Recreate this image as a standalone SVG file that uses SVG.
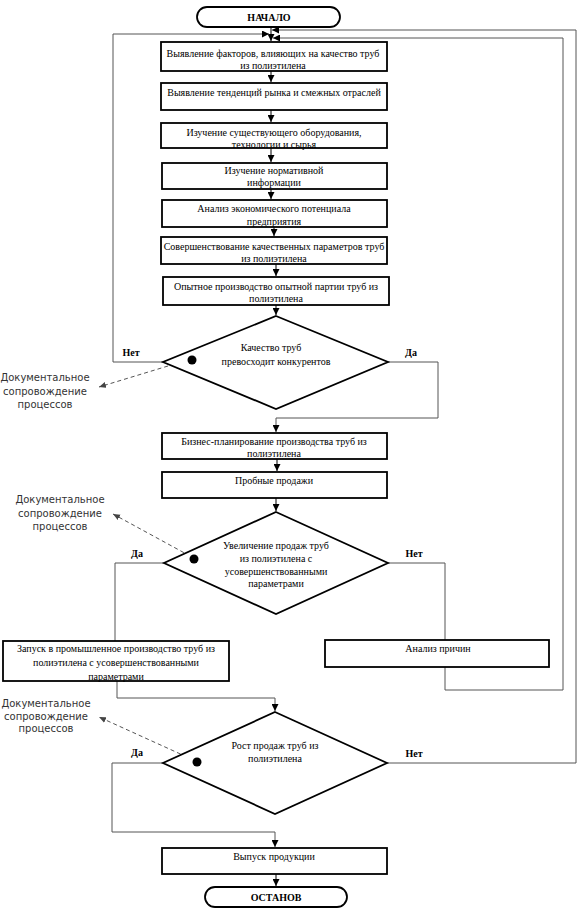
<svg xmlns="http://www.w3.org/2000/svg" width="586" height="913" viewBox="0 0 586 913">
<style>
.box{fill:#fff;stroke:#000;stroke-width:1.8}
.dia{fill:#fff;stroke:#000;stroke-width:1.8}
.t{font-family:"Liberation Serif",serif;font-size:10px;fill:#000;text-anchor:middle}
.b{font-family:"Liberation Serif",serif;font-size:10px;font-weight:bold;fill:#000;text-anchor:middle}
.doc{font-family:"DejaVu Sans",sans-serif;font-size:10px;fill:#333;text-anchor:middle}
.c{fill:none;stroke:#555;stroke-width:1}
.s{fill:none;stroke:#000;stroke-width:1}
.d{fill:none;stroke:#555;stroke-width:1;stroke-dasharray:4,3}
</style>
<defs>
<marker id="ar" markerUnits="userSpaceOnUse" markerWidth="8" markerHeight="7" refX="7" refY="3.5" orient="auto">
<path d="M0,0 L7,3.5 L0,7 z" fill="#000"/>
</marker>
<marker id="ard" markerUnits="userSpaceOnUse" markerWidth="8" markerHeight="7" refX="7" refY="3.5" orient="auto">
<path d="M0,0.5 L7,3.5 L0,6.5 z" fill="#444"/>
</marker>
</defs>

<g id="connectors">
<path class="s" d="M271,27 V41" marker-end="url(#ar)"/>
<path class="s" d="M271,71 V82" marker-end="url(#ar)"/>
<path class="s" d="M271,110 V122" marker-end="url(#ar)"/>
<path class="s" d="M271,148 V162" marker-end="url(#ar)"/>
<path class="s" d="M271,189 V199" marker-end="url(#ar)"/>
<path class="s" d="M274,227 V236" marker-end="url(#ar)"/>
<path class="s" d="M276,264 V276" marker-end="url(#ar)"/>
<path class="s" d="M276,305 V315" marker-end="url(#ar)"/>
<path class="c" d="M163,362 H113 V34 H269" marker-end="url(#ar)"/>
<path class="c" d="M388,362 H438 V418 H276 V432" marker-end="url(#ar)"/>
<path class="s" d="M277,459 V471" marker-end="url(#ar)"/>
<path class="s" d="M276,498 V511" marker-end="url(#ar)"/>
<path class="c" d="M164,563 H115 V641"/>
<path class="c" d="M388,563 H445 V690 H563 V38 H273" marker-end="url(#ar)"/>
<path class="c" d="M117,681 V698 H275 V711" marker-end="url(#ar)"/>
<path class="c" d="M387,763 H576 V30 H272" marker-end="url(#ar)"/>
<path class="c" d="M163,763 H112 V832 H275 V847" marker-end="url(#ar)"/>
<path class="s" d="M276,874 V886" marker-end="url(#ar)"/>
<path class="d" d="M168,366 L99,387" marker-end="url(#ard)"/>
<path class="d" d="M190,556 L113,514" marker-end="url(#ard)"/>
<path class="d" d="M187,757 L99,717" marker-end="url(#ard)"/>
</g>

<g id="start">
<rect class="box" x="197" y="7" width="143" height="20" rx="10" ry="10"/>
<text class="b" x="269" y="21">НАЧАЛО</text>
</g>

<g id="n1">
<rect class="box" x="161" y="42" width="226" height="29"/>
<text class="t" x="273" y="56.5">Выявление факторов, влияющих на качество труб</text>
<text class="t" x="273" y="68.5">из полиэтилена</text>
</g>
<g id="n2">
<rect class="box" x="161" y="83" width="226" height="27"/>
<text class="t" x="274" y="95.5">Выявление тенденций рынка и смежных отраслей</text>
</g>
<g id="n3">
<rect class="box" x="161" y="123" width="226" height="25"/>
<text class="t" x="274" y="135.5">Изучение существующего оборудования,</text>
<text class="t" x="274" y="147.5">технологии и сырья</text>
</g>
<g id="n4">
<rect class="box" x="162" y="163" width="225" height="26"/>
<text class="t" x="274" y="173.5">Изучение нормативной</text>
<text class="t" x="274" y="186">информации</text>
</g>
<g id="n5">
<rect class="box" x="162" y="200" width="225" height="27"/>
<text class="t" x="274" y="211.5">Анализ экономического потенциала</text>
<text class="t" x="274" y="224.5">предприятия</text>
</g>
<g id="n6">
<rect class="box" x="161" y="237" width="226" height="27"/>
<text class="t" x="274" y="249.5">Совершенствование качественных параметров труб</text>
<text class="t" x="274" y="261.5">из полиэтилена</text>
</g>
<g id="n7">
<rect class="box" x="163" y="277" width="226" height="28"/>
<text class="t" x="276" y="289.5">Опытное производство опытной партии труб из</text>
<text class="t" x="276" y="301.5">полиэтилена</text>
</g>

<g id="d1">
<polygon class="dia" points="276,316 388,362 276,409 163,362"/>
<circle cx="192" cy="360" r="4.5" fill="#000"/>
<text class="t" x="271" y="350.5">Качество труб</text>
<text class="t" x="276" y="364.5">превосходит конкурентов</text>
<text class="b" x="131" y="355.5">Нет</text>
<text class="b" x="411" y="355.5">Да</text>
</g>
<g id="doc1">
<text class="doc" x="45" y="381">Документальное</text>
<text class="doc" x="45" y="395">сопровождение</text>
<text class="doc" x="45" y="408">процессов</text>
</g>

<g id="n8">
<rect class="box" x="162" y="433" width="225" height="26"/>
<text class="t" x="274" y="444.5">Бизнес-планирование производства труб из</text>
<text class="t" x="274" y="456.5">полиэтилена</text>
</g>
<g id="n9">
<rect class="box" x="162" y="472" width="225" height="26"/>
<text class="t" x="274" y="483.5">Пробные продажи</text>
</g>

<g id="d2">
<polygon class="dia" points="276,512 388,563 276,614 164,563"/>
<circle cx="194" cy="559" r="4.5" fill="#000"/>
<text class="t" x="276" y="548.5">Увеличение продаж труб</text>
<text class="t" x="276" y="561.5">из полиэтилена с</text>
<text class="t" x="276" y="575">усовершенствованными</text>
<text class="t" x="276" y="587">параметрами</text>
<text class="b" x="137" y="556.5">Да</text>
<text class="b" x="414" y="556.5">Нет</text>
</g>
<g id="doc2">
<text class="doc" x="60" y="503">Документальное</text>
<text class="doc" x="60" y="516.5">сопровождение</text>
<text class="doc" x="60" y="529.5">процессов</text>
</g>

<g id="n10">
<rect class="box" x="3" y="641" width="226" height="40"/>
<text class="t" x="116" y="651.5">Запуск в промышленное производство труб из</text>
<text class="t" x="116" y="666">полиэтилена с усовершенствованными</text>
<text class="t" x="116" y="679.5">параметрами</text>
</g>
<g id="n11">
<rect class="box" x="325" y="640" width="224" height="27"/>
<text class="t" x="438" y="651.5">Анализ причин</text>
</g>

<g id="d3">
<polygon class="dia" points="275,712 387,763 275,814 163,763"/>
<circle cx="197" cy="762" r="4.5" fill="#000"/>
<text class="t" x="275" y="748.5">Рост продаж труб из</text>
<text class="t" x="275" y="761.5">полиэтилена</text>
<text class="b" x="137" y="755.5">Да</text>
<text class="b" x="414" y="756.5">Нет</text>
</g>
<g id="doc3">
<text class="doc" x="46" y="707">Документальное</text>
<text class="doc" x="46" y="720">сопровождение</text>
<text class="doc" x="46" y="732">процессов</text>
</g>

<g id="n12">
<rect class="box" x="162" y="848" width="225" height="26"/>
<text class="t" x="274" y="859.5">Выпуск продукции</text>
</g>
<g id="end">
<rect class="box" x="205" y="887" width="142" height="20" rx="10" ry="10"/>
<text class="b" x="276" y="901">ОСТАНОВ</text>
</g>
</svg>
